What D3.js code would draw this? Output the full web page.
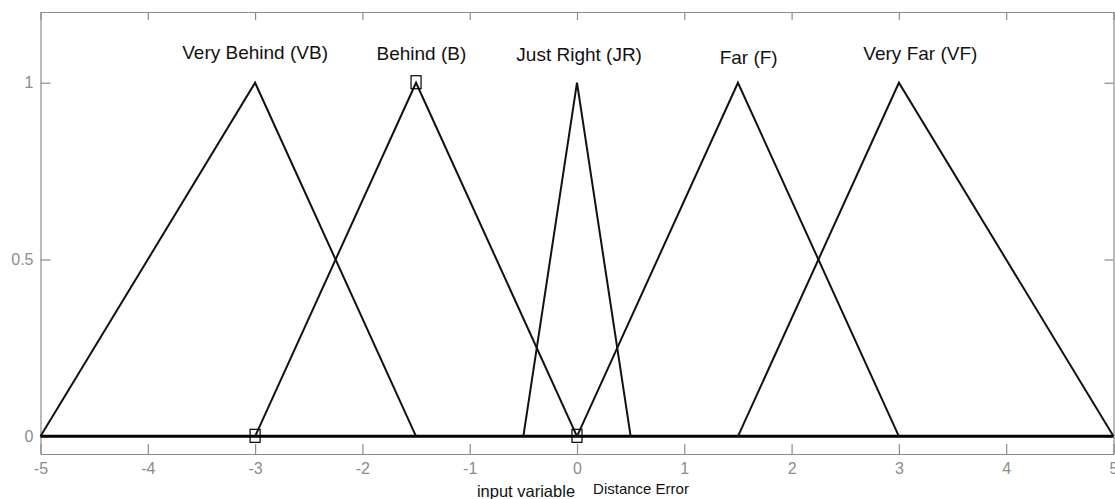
<!DOCTYPE html>
<html>
<head>
<meta charset="utf-8">
<script src="https://cdn.jsdelivr.net/npm/d3@7"></script>
<style>
	body { margin: 0; background: #fff; }
	svg { display: block; font-family: Arial, "Liberation Sans", sans-serif; }
	.axis path, .axis line { stroke: #8c8c8c; stroke-width: 1.2; }
	.axis text { fill: #8c8c8c; font-size: 16px; }
</style>
</head>
<body>
<svg id="chart" width="1115" height="499"></svg>
<script>
// membership functions of the input variable "Distance Error"
const setNames = ['Very Behind (VB)', 'Behind (B)', 'Just Right (JR)', 'Far (F)', 'Very Far (VF)'];
const setPoints = [
	[-5, -3, -1.5],
	[-3, -1.5, 0],
	[-0.5, 0, 0.5],
	[0, 1.5, 3],
	[1.5, 3, 5],
];
const labelX = [-3, -1.45, 0.02, 1.6, 3.2];
const labelY = [1.068, 1.065, 1.062, 1.054, 1.065];
const xTicks = [-5, -4, -3, -2, -1, 0, 1, 2, 3, 4, 5];
const yTicks = [0, 0.5, 1];
// small square markers (selected points)
const markers = [[-3, 0], [-1.5, 1], [0, 0]];

const svg = d3.select('#chart');
const width = 1115;
const height = 499;
const margin = { top: 12, right: 1.5, bottom: 45, left: 40.5 };

const x = d3.scaleLinear().domain([-5, 5]).range([margin.left, width - margin.right]);
const y = d3.scaleLinear().domain([-0.05, 1.2]).range([height - margin.bottom, margin.top]);

// plain hyphen for negatives, like the original
const fmt = (d) => String(d);

// axes (ticks point inward, like a MATLAB box)
svg.append('g')
	.attr('class', 'axis')
	.attr('transform', `translate(0,${y(-0.05)})`)
	.call(d3.axisBottom(x).tickValues(xTicks).tickSizeInner(-10).tickSizeOuter(0).tickPadding(9).tickFormat(fmt));

svg.append('g')
	.attr('class', 'axis')
	.attr('transform', `translate(0,${y(1.2)})`)
	.call(d3.axisTop(x).tickValues(xTicks).tickSizeInner(-8).tickSizeOuter(0).tickFormat(''));

svg.append('g')
	.attr('class', 'axis')
	.attr('transform', `translate(${x(-5)},0)`)
	.call(d3.axisLeft(y).tickValues(yTicks).tickSizeInner(-10).tickSizeOuter(0).tickPadding(7).tickFormat(fmt));

svg.append('g')
	.attr('class', 'axis')
	.attr('transform', `translate(${x(5)},0)`)
	.call(d3.axisRight(y).tickValues(yTicks).tickSizeInner(-9).tickSizeOuter(0).tickFormat(''));

// zero line
svg.append('line')
	.attr('x1', x(-5))
	.attr('x2', x(5))
	.attr('y1', y(0))
	.attr('y2', y(0))
	.style('stroke', '#000')
	.style('stroke-width', 3);

// triangles
const line = d3.line()
	.x((d) => x(d[0]))
	.y((d) => y(d[1]));

svg.selectAll('path.mf')
	.data(setPoints)
	.enter()
	.append('path')
	.attr('class', 'mf')
	.attr('d', (p) => line([[p[0], 0], [p[1], 1], [p[2], 0]]))
	.style('fill', 'none')
	.style('stroke', '#111')
	.style('stroke-width', 2);

// markers
svg.selectAll('rect.marker')
	.data(markers)
	.enter()
	.append('rect')
	.attr('class', 'marker')
	.attr('x', (d) => x(d[0]) - 5)
	.attr('y', (d) => y(d[1]) - 7)
	.attr('width', 10)
	.attr('height', 13)
	.style('fill', 'none')
	.style('stroke', '#000')
	.style('stroke-width', 1.2);

// set names
svg.selectAll('text.name')
	.data(setNames)
	.enter()
	.append('text')
	.attr('class', 'name')
	.attr('x', (d, i) => x(labelX[i]))
	.attr('y', (d, i) => y(labelY[i]))
	.attr('text-anchor', 'middle')
	.style('font-size', '19px')
	.style('fill', '#111')
	.text((d) => d);

// x axis titles
svg.append('text')
	.attr('x', 526)
	.attr('y', 497)
	.attr('text-anchor', 'middle')
	.style('font-size', '16.5px')
	.style('fill', '#111')
	.text('input variable');

svg.append('text')
	.attr('x', 641)
	.attr('y', 494)
	.attr('text-anchor', 'middle')
	.style('font-size', '15px')
	.style('fill', '#111')
	.text('Distance Error');
</script>
</body>
</html>
